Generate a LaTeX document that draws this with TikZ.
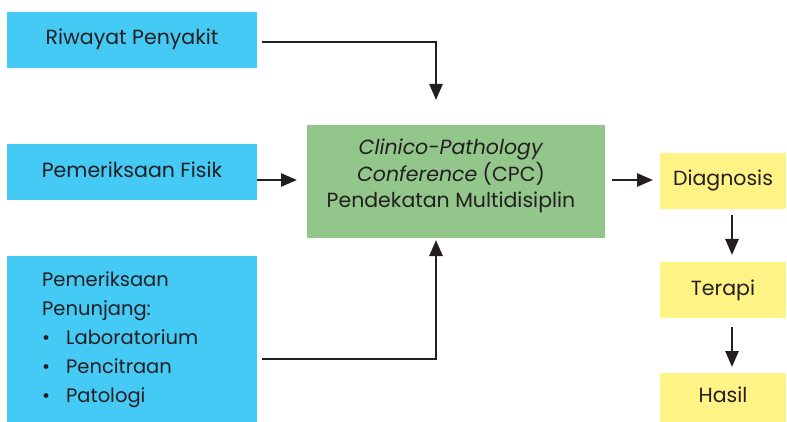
\documentclass[tikz,border=0pt]{standalone}
\usepackage{fontspec}
\setmainfont{Poppins}
\usetikzlibrary{arrows.meta}
\definecolor{boxblue}{HTML}{45C9F5}
\definecolor{boxgreen}{HTML}{92C68A}
\definecolor{boxyellow}{HTML}{FFF385}
\definecolor{ink}{HTML}{231F20}
\tikzset{
  bluebox/.style={fill=boxblue, draw=none, minimum width=250pt, minimum height=56pt, inner sep=0pt, text depth=4pt, text height=14pt},
  yellowbox/.style={fill=boxyellow, draw=none, minimum width=126pt, minimum height=56pt, inner sep=0pt, text depth=4pt, text height=14pt},
  txt/.style={text=ink, font=\fontsize{20.5}{26.5}\selectfont},
  conn/.style={draw=ink, line width=2.6pt, -{Triangle[length=16pt,width=13pt]}}
}
\begin{document}
\begin{tikzpicture}[x=1pt,y=1pt]
\useasboundingbox (0,0) rectangle (787,-422);
% boxes
\node[bluebox, txt] (riwayat) at (132,-40) {Riwayat Penyakit};
\node[bluebox, txt] (fisik) at (132,-172.5) {Pemeriksaan Fisik};
\node[fill=boxblue, minimum width=250pt, minimum height=166pt, inner sep=0pt] (penunjang) at (132,-339) {};
\node[txt, anchor=north west, align=left, inner sep=0pt, font=\fontsize{19.5}{29}\selectfont] (penunjangtxt) at (42,-271)
  {Pemeriksaan\\Penunjang:\\\makebox[24pt][l]{•}Laboratorium\\\makebox[24pt][l]{•}Pencitraan\\\makebox[24pt][l]{•}Patologi};
\node[fill=boxgreen, minimum width=298pt, minimum height=113pt, inner sep=0pt] (cpc) at (456,-181.5) {};
\node[txt, align=center, inner sep=0pt] (cpctxt) at (451,-176)
  {\textit{Clinico-Pathology}\\\textit{Conference} (CPC)\\Pendekatan Multidisiplin};
\node[yellowbox, txt] (diagnosis) at (723,-181) {Diagnosis};
\node[yellowbox, txt] (terapi) at (723,-290) {Terapi};
\node[yellowbox, txt, minimum height=50pt] (hasil) at (723,-397.5) {Hasil};
% connector ends
\coordinate (a1s) at (262,-42);
\coordinate (a1e) at (436,-100);
\coordinate (a2s) at (257,-180);
\coordinate (a2e) at (297,-180);
\coordinate (a3s) at (262,-359);
\coordinate (a3e) at (436,-240);
\coordinate (a4s) at (612,-180);
\coordinate (a4e) at (653,-180);
\coordinate (a5s) at (732,-215);
\coordinate (a5e) at (732,-255);
\coordinate (a6s) at (732,-327);
\coordinate (a6e) at (732,-367);
% connectors
\draw[conn] (a1s) -| (a1e);
\draw[conn] (a2s) -- (a2e);
\draw[conn] (a3s) -| (a3e);
\draw[conn] (a4s) -- (a4e);
\draw[conn] (a5s) -- (a5e);
\draw[conn] (a6s) -- (a6e);
\end{tikzpicture}
\end{document}
